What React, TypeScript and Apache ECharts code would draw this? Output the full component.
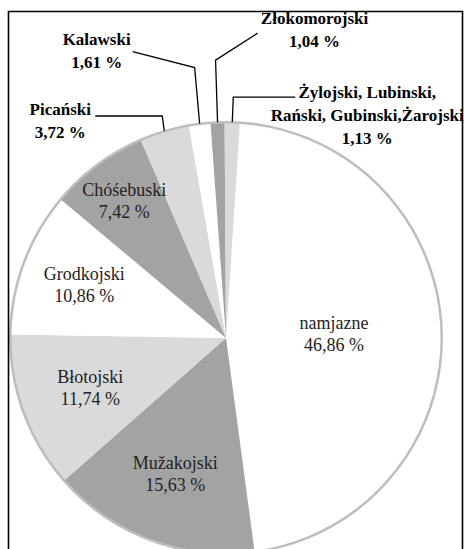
import React, { useEffect, useRef } from 'react';
import * as echarts from 'echarts';

// ---- data ----
const categories = [
  'namjazne',
  'Mužakojski',
  'Błotojski',
  'Grodkojski',
  'Chóśebuski',
  'Picański',
  'Kalawski',
  'Złokomorojski',
  'Żylojski, Lubinski,\nRański, Gubinski,Żarojski',
];
const shares = [46.86, 15.63, 11.74, 10.86, 7.42, 3.72, 1.61, 1.04, 1.13];
const sliceColors = ['#ffffff', '#a3a3a3', '#dadada', '#ffffff', '#a3a3a3', '#dadada', '#ffffff', '#a3a3a3', '#dadada'];

// ---- layout settings ----
const W = 464;
const H = 549;
const CX = 226;
const CY = 338;
const R = 216;
const START_ANGLE = 86.3;
const FONT = 'Liberation Serif';
// radial position (fraction of radius) of the inside labels
const insideLabelFrac: Record<number, number> = { 0: 0.5, 1: 0.67, 2: 0.67, 3: 0.7, 4: 0.79 };
// outside labels: offsets from the slice's rim point [bend, lineEnd, textCenter]
const outsidePlacement: Record<number, number[][]> = {
  5: [[-2, -15], [-69, -15], [-104, -10]],
  6: [[-5, -56], [-67, -72], [-103, -73]],
  7: [[-2, -62], [40, -89], [97, -92]],
  8: [[1, -25], [63, -25], [135, -7]],
};

function fmt(v: number) {
  return v.toFixed(2).replace('.', ',') + ' %';
}

export default function App() {
  const ref = useRef<HTMLDivElement>(null);
  useEffect(() => {
    if (!ref.current) return;
    const chart = echarts.init(ref.current, undefined, { renderer: 'svg' });
    const total = shares.reduce((a, b) => a + b, 0);
    const cumBefore: number[] = [];
    let acc = 0;
    shares.forEach((v) => {
      cumBefore.push(acc);
      acc += v;
    });
    const midPoint = (i: number, frac: number) => {
      const deg = 90 - START_ANGLE + ((cumBefore[i] + shares[i] / 2) / total) * 360;
      const a = (deg * Math.PI) / 180;
      return [CX + R * frac * Math.sin(a), CY - R * frac * Math.cos(a)];
    };

    const labelGraphics: any[] = [];
    categories.forEach((name, i) => {
      const text = name + '\n' + fmt(shares[i]);
      const place = outsidePlacement[i];
      if (place) {
        const rim = midPoint(i, 1);
        const [b, e, t] = place;
        labelGraphics.push({
          type: 'polyline',
          z: 50,
          silent: true,
          shape: {
            points: [
              rim,
              [rim[0] + b[0], rim[1] + b[1]],
              [rim[0] + e[0], rim[1] + e[1]],
            ],
          },
          style: { stroke: '#000', lineWidth: 1.3, fill: 'none' },
        });
        labelGraphics.push({
          type: 'text',
          z: 50,
          silent: true,
          x: rim[0] + t[0],
          y: rim[1] + t[1],
          style: {
            text,
            fontFamily: FONT,
            fontWeight: 'bold',
            fontSize: 17,
            lineHeight: 23,
            fill: '#000',
            align: 'center',
            verticalAlign: 'middle',
          },
        });
      } else {
        const p = midPoint(i, insideLabelFrac[i] ?? 0.5);
        labelGraphics.push({
          type: 'text',
          z: 50,
          silent: true,
          x: p[0],
          y: p[1],
          style: {
            text,
            fontFamily: FONT,
            fontWeight: 'normal',
            fontSize: 18,
            lineHeight: 22,
            fill: '#222',
            align: 'center',
            verticalAlign: 'middle',
          },
        });
      }
    });

    chart.setOption({
      animation: false,
      backgroundColor: '#ffffff',
      series: [
        {
          type: 'pie',
          center: [CX, CY],
          radius: [0, R],
          startAngle: START_ANGLE,
          clockwise: true,
          silent: true,
          label: { show: false },
          labelLine: { show: false },
          data: categories.map((name, i) => ({
            name,
            value: shares[i],
            itemStyle: { color: sliceColors[i] },
          })),
        },
        {
          type: 'pie',
          center: [CX, CY],
          radius: [R - 1.5, R + 1],
          silent: true,
          label: { show: false },
          labelLine: { show: false },
          itemStyle: { color: '#bdbdbd' },
          data: [{ value: 1, name: 'rim' }],
          z: 3,
        },
      ],
      graphic: [
        ...labelGraphics,
        {
          type: 'polyline',
          z: 100,
          silent: true,
          shape: {
            points: [
              [8.5, H + 5],
              [8.5, 11.5],
              [462.5, 11.5],
              [462.5, H + 5],
            ],
          },
          style: { stroke: '#000', lineWidth: 1.6, fill: 'none' },
        },
      ],
    });
    return () => chart.dispose();
  }, []);
  return (
    <div
      ref={ref}
      style={{ position: 'fixed', left: 0, top: 0, width: W, height: H, background: '#fff' }}
    />
  );
}
